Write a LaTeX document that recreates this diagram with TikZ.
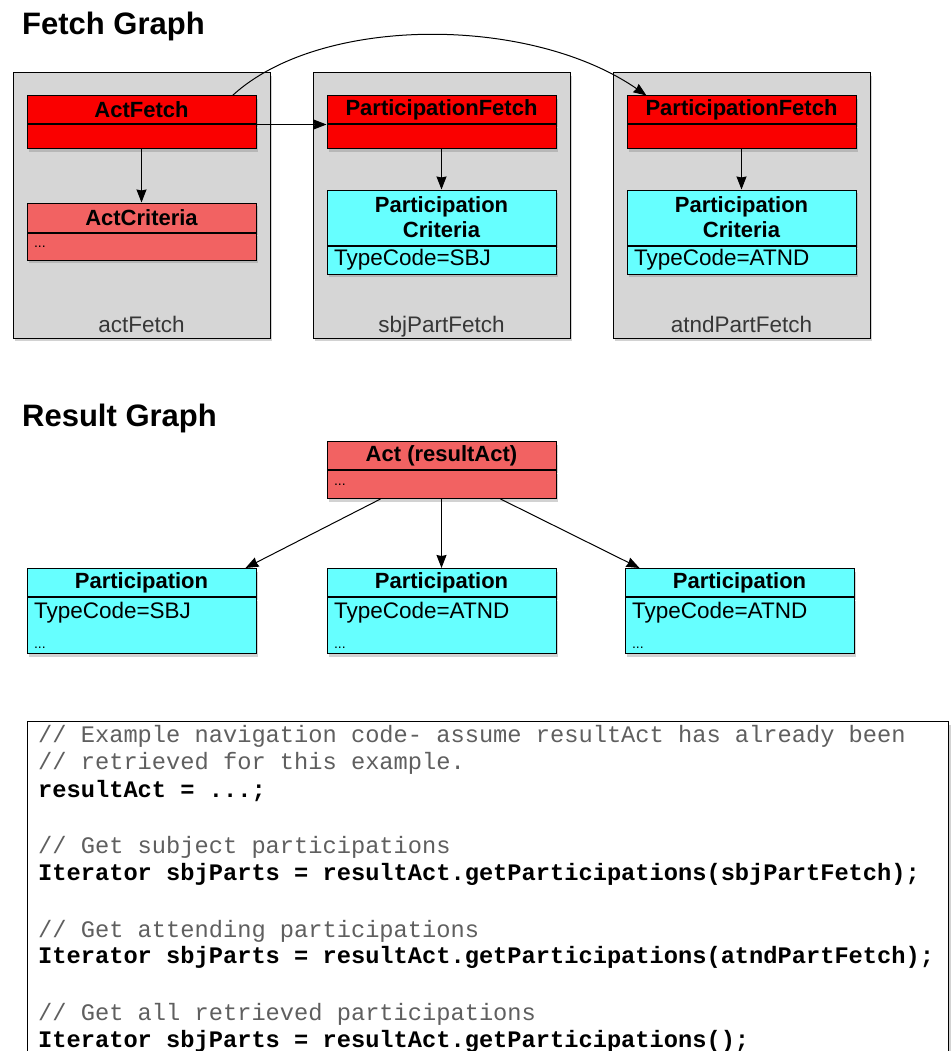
\documentclass[tikz,border=0pt]{standalone}
\usepackage{fontspec}
\setmainfont{Liberation Sans}
\setmonofont{Liberation Mono}
\usetikzlibrary{arrows.meta,positioning,shadows}

\definecolor{fetchred}{RGB}{250,0,0}
\definecolor{critred}{RGB}{242,98,98}
\definecolor{partcyan}{RGB}{102,255,255}
\definecolor{boxgray}{RGB}{214,214,214}
\definecolor{labelgray}{RGB}{55,55,55}
\definecolor{commentgray}{RGB}{95,95,95}

\newcommand{\titlefont}{\fontsize{31}{36}\selectfont\bfseries}
\newcommand{\hdrfont}{\fontsize{22}{25}\selectfont\bfseries}
\newcommand{\bdyfont}{\fontsize{22.5}{26}\selectfont}
\newcommand{\dotsfont}{\fontsize{14}{16}\selectfont}
\newcommand{\codefont}{\fontsize{23.7}{27}\selectfont\ttfamily}

\begin{document}
\begin{tikzpicture}[x=1pt,y=-1pt,
    shade/.style={drop shadow={opacity=0.35,shadow xshift=2pt,shadow yshift=-3pt}},
    fetchbox/.style={draw,fill=boxgray,line width=1pt,minimum width=257,minimum height=265,inner sep=0pt,shade},
    hdr/.style={draw,line width=1pt,minimum width=229,minimum height=28,inner sep=0pt,font=\hdrfont,align=center,shade},
    bdy/.style={draw,line width=1pt,minimum width=229,text width=215,inner xsep=7pt,inner ysep=0pt,font=\bdyfont,align=left,shade},
    lbl/.style={anchor=base,font=\bdyfont,text=labelgray},
    title/.style={anchor=base west,inner sep=0pt,font=\titlefont},
    arr/.style={-{Stealth[length=13pt,width=10pt,inset=1pt]},line width=1pt},
    cmt/.style={anchor=base west,inner sep=0pt,font=\codefont,text=commentgray},
    code/.style={anchor=base west,inner sep=0pt,font=\codefont\bfseries}]
        \useasboundingbox (0,0) rectangle (950,1051);
        \fill[white] (0,0) rectangle (950,1051);

        % fetch graph
        \node[title] (fetchtitle) at (22,35) {Fetch Graph};

        \node[fetchbox] (actbox) at (141.5,205.5) {};
        \node[fetchbox,right=42pt of actbox] (sbjbox) {};
        \node[fetchbox,right=42pt of sbjbox] (atndbox) {};
        \node[lbl] (actlbl) at ([yshift=6pt]actbox.south) {actFetch};
        \node[lbl] (sbjlbl) at ([yshift=6pt]sbjbox.south) {sbjPartFetch};
        \node[lbl] (atndlbl) at ([yshift=6pt]atndbox.south) {atndPartFetch};

        \node[hdr,fill=fetchred,below=23pt of actbox.north] (actfetch) {ActFetch};
        \node[bdy,fill=fetchred,minimum height=24,below=0pt of actfetch] (actfetchb) {};
        \node[hdr,fill=critred,minimum height=29,below=53pt of actfetchb] (actcrit) {ActCriteria};
        \node[bdy,fill=critred,minimum height=27,below=0pt of actcrit] (actcritb) {\dotsfont ...};

        \node[hdr,fill=fetchred,below=23pt of sbjbox.north] (sbjfetch) {ParticipationFetch};
        \node[bdy,fill=fetchred,minimum height=24,below=0pt of sbjfetch] (sbjfetchb) {};
        \node[hdr,fill=partcyan,minimum height=55,below=40pt of sbjfetchb] (sbjcrit) {Participation\\Criteria};
        \node[bdy,fill=partcyan,minimum height=28,below=0pt of sbjcrit] (sbjcritb) {TypeCode=SBJ};

        \node[hdr,fill=fetchred,below=23pt of atndbox.north] (atndfetch) {ParticipationFetch};
        \node[bdy,fill=fetchred,minimum height=24,below=0pt of atndfetch] (atndfetchb) {};
        \node[hdr,fill=partcyan,minimum height=55,below=40pt of atndfetchb] (atndcrit) {Participation\\Criteria};
        \node[bdy,fill=partcyan,minimum height=28,below=0pt of atndcrit] (atndcritb) {TypeCode=ATND};

        \draw[arr] (actfetchb.south) -- (actcrit.north);
        \draw[arr] (sbjfetchb.south) -- (sbjcrit.north);
        \draw[arr] (atndfetchb.south) -- (atndcrit.north);
        \draw[arr] (actfetch.south east) -- (sbjfetch.south west);
        \draw[arr] ([xshift=-24pt]actfetch.north east) .. controls (320,15) and (530,15) .. ([xshift=20pt]atndfetch.north west);

        % result graph
        \node[title] (resulttitle) at (22,426) {Result Graph};

        \node[hdr,fill=critred,anchor=north] (resultact) at (441.5,441) {Act (resultAct)};
        \node[bdy,fill=critred,minimum height=28,below=0pt of resultact] (resultactb) {\dotsfont ...};

        \node[hdr,fill=partcyan,anchor=north] (sbjpart) at (141.5,568) {Participation};
        \node[bdy,fill=partcyan,minimum height=56,below=0pt of sbjpart] (sbjpartb) {TypeCode=SBJ\\[4pt]{\dotsfont ...}};
        \node[hdr,fill=partcyan,anchor=north] (atndpart) at (441.5,568) {Participation};
        \node[bdy,fill=partcyan,minimum height=56,below=0pt of atndpart] (atndpartb) {TypeCode=ATND\\[4pt]{\dotsfont ...}};
        \node[hdr,fill=partcyan,anchor=north] (otherpart) at (739.5,568) {Participation};
        \node[bdy,fill=partcyan,minimum height=56,below=0pt of otherpart] (otherpartb) {TypeCode=ATND\\[4pt]{\dotsfont ...}};

        \draw[arr] ([xshift=-61pt]resultactb.south) -- ([xshift=-11pt]sbjpart.north east);
        \draw[arr] (resultactb.south) -- (atndpart.north);
        \draw[arr] ([xshift=59pt]resultactb.south) -- ([xshift=15pt]otherpart.north west);

        % navigation code
        \node[draw,line width=1.2pt,fill=white,anchor=north west,minimum width=921,minimum height=360,inner sep=0pt,shade] (codebox) at (27,721) {};
        \node[cmt] (c1) at (38,742) {// Example navigation code- assume resultAct has already been};
        \node[cmt] (c2) at (38,769) {// retrieved for this example.};
        \node[code] (c3) at (38,797) {resultAct = ...;};
        \node[cmt] (c4) at (38,853) {// Get subject participations};
        \node[code] (c5) at (38,880) {Iterator sbjParts = resultAct.getParticipations(sbjPartFetch);};
        \node[cmt] (c6) at (38,937) {// Get attending participations};
        \node[code] (c7) at (38,963) {Iterator sbjParts = resultAct.getParticipations(atndPartFetch);};
        \node[cmt] (c8) at (38,1020) {// Get all retrieved participations};
        \node[code] (c9) at (38,1047) {Iterator sbjParts = resultAct.getParticipations();};
    \end{tikzpicture}
\end{document}
